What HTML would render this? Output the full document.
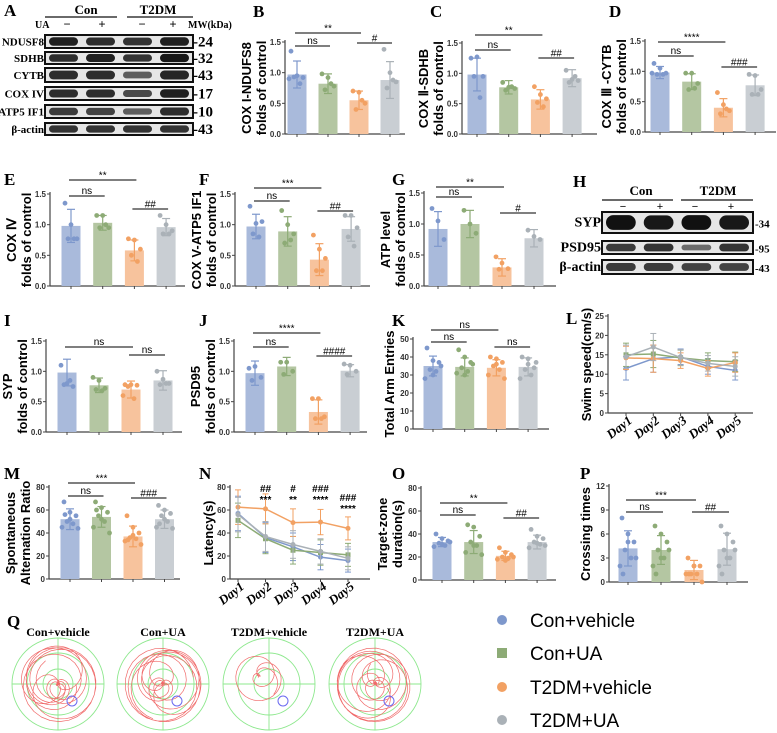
<!DOCTYPE html>
<html><head><meta charset="utf-8"><style>
html,body{margin:0;padding:0;background:#fff;}
svg{display:block;font-family:"Liberation Sans",sans-serif;}
.lt{font-family:"Liberation Serif",serif;font-weight:bold;font-size:17px;}
.tk{font-size:8px;font-weight:bold;fill:#333;}
.yl{font-size:13px;font-weight:bold;}
.sg{font-size:10px;}
.bl{font-family:"Liberation Serif",serif;font-weight:bold;}
</style></head><body>
<svg id="fig" width="777" height="733" viewBox="0 0 777 733" xmlns="http://www.w3.org/2000/svg"></svg>
<script>
// ---------- DATA ----------
const groups = ["Con+vehicle","Con+UA","T2DM+vehicle","T2DM+UA"];
const B_means=[0.97,0.82,0.55,0.88], B_sd=[0.22,0.16,0.15,0.30];
const B_pts=[[1.35,0.95,0.92,0.93,0.82,0.9],[0.98,0.92,0.78,0.72,0.82],[0.7,0.68,0.5,0.4,0.55],[1.38,1.0,0.85,0.75,0.88]];
const C_means=[0.98,0.77,0.57,0.92], C_sd=[0.27,0.11,0.16,0.14];
const C_pts=[[1.25,1.27,0.95,0.95,0.6],[0.85,0.77,0.75,0.72,0.78],[0.78,0.65,0.58,0.52,0.45],[1.05,0.9,0.88,0.85,0.95]];
const D_means=[0.98,0.83,0.40,0.77], D_sd=[0.10,0.13,0.15,0.17];
const D_pts=[[1.13,1.05,0.97,0.95,0.95,0.97],[0.97,0.97,0.8,0.7,0.72],[0.65,0.45,0.35,0.3,0.38],[0.95,0.93,0.7,0.62,0.62]];
const E_means=[0.98,1.03,0.58,0.96], E_sd=[0.27,0.12,0.17,0.14];
const E_pts=[[1.35,1.0,0.77,0.77,0.77],[1.15,1.15,0.95,0.95,1.0],[0.77,0.75,0.6,0.5,0.4],[1.15,1.0,0.9,0.85,0.85]];
const F_means=[0.97,0.89,0.43,0.93], F_sd=[0.20,0.24,0.26,0.20];
const F_pts=[[1.3,1.02,1.05,0.85,0.8],[1.23,1.0,0.85,0.7,0.75],[0.83,0.6,0.45,0.25,0.25],[1.15,1.15,0.95,0.8,0.65]];
const G_means=[0.92,1.0,0.30,0.77], G_sd=[0.28,0.22,0.14,0.14];
const G_pts=[[1.25,1.05,0.75],[1.22,1.0,0.85],[0.47,0.37,0.28,0.27],[0.9,0.8,0.75]];
const I_means=[0.98,0.77,0.70,0.85], I_sd=[0.22,0.12,0.14,0.16];
const I_pts=[[1.1,0.8,0.75,0.78,0.85],[0.9,0.85,0.72,0.7,0.68],[0.78,0.78,0.77,0.75,0.55,0.6],[1.0,0.87,0.8,0.78,0.8]];
const J_means=[0.97,1.08,0.33,1.01], J_sd=[0.20,0.15,0.20,0.10];
const J_pts=[[1.05,1.08,0.9,0.85],[1.15,1.15,1.0,0.95],[0.55,0.55,0.25,0.22,0.22],[1.12,1.1,1.0,0.95]];
const K_means=[35,34.5,34,34.5], K_sd=[5.5,5,4.5,5];
const K_pts=[[45,38,37,33,32,28,35,30],[44,40,37,34,32,31,36,30],[40,39,37,35,33,30,28,36],[40,39,34,33,30,28,37,36]];
const M_means=[52,54,37,52], M_sd=[9,9,9,8];
const M_pts=[[67,58,55,50,48,45,44,52,56],[67,62,58,55,50,45,40,52,60],[55,45,40,36,35,33,30,38,34],[64,60,57,55,50,45,44,52,48]];
const O_means=[33,33,21,33], O_sd=[4,10,4,6];
const O_pts=[[40,36,34,32,30,29,33,31],[48,46,38,33,30,24,22,30],[28,24,22,20,19,18,20,17],[44,38,36,33,31,28,30,32]];
const P_means=[4.2,4.0,1.5,4.1], P_sd=[2.2,1.8,1.2,2.0];
const P_pts=[[8,6,5,4,3,2,3,5,1],[7,6,5,4,3,2,4,3,1],[3,2,2,1,1,1,0,2,1],[7,6,5,4,3,2,4,3,1]];
const days=["Day1","Day2","Day3","Day4","Day5"];
const L_blue=[11.5,14,14.5,12,11], L_green=[15,15.2,14.2,13.5,13.2], L_orange=[14.2,14,13.5,11.5,13], L_gray=[14.5,17,14.3,12.8,12];
const L_err=[3,3.5,2,2,2.5];
const N_blue=[57,36,28,19,16], N_green=[51,35,25,23,21], N_orange=[62.5,61,49,49.5,44], N_gray=[56,37,30,24,18];
const N_err=[15,13,12,11,10];
const N_hash=["","##","#","###","###"], N_star=["","***","**","****","****"];

// ---------- HELPERS ----------
const NS="http://www.w3.org/2000/svg";
const svg=document.getElementById('fig');
function mk(tag,attrs,parent,txt){const e=document.createElementNS(NS,tag);for(const k in attrs)e.setAttribute(k,attrs[k]);if(txt!==undefined)e.textContent=txt;(parent||svg).appendChild(e);return e;}
const FILL=['#a9badb','#b4c6a2','#f7c39d','#c9ced3'], DOT=['#7e98cc','#8dab76','#f2a163','#aab1b7'];
const JIT=[-6,0,6,-3,3,-8,8,0,-5,5];

function drawBars(name,L,means,sds,pts){
  const g=mk('g',{});
  
  
  const y=v=>L.y0-v/L.max*(L.y0-L.y1);
  const x=i=>L.x0+i*L.dx;
  const lt=mk('text',{x:L.lx,y:L.ly,class:'lt'},g,L.letter);
  
  
  mk('line',{x1:L.ax,y1:L.y1-2,x2:L.ax,y2:L.y0,stroke:'#444','stroke-width':1.2},g);
  mk('line',{x1:L.ax,y1:L.y0,x2:L.xEnd,y2:L.y0,stroke:'#444','stroke-width':1.2},g);
  L.ticks.forEach(t=>{
    mk('line',{x1:L.ax-3,y1:y(t),x2:L.ax,y2:y(t),stroke:'#444'},g);
    const tt=mk('text',{x:L.ax-4,y:y(t)+3,'text-anchor':'end',class:'tk'},g,L.fmt(t));
    
    
  });
  const mid=(L.y0+L.y1)/2;
  const yl1=mk('text',{x:0,y:0,class:'yl','text-anchor':'middle',transform:`translate(${L.ax-(L.label2?34:19)},${mid}) rotate(-90)`},g,L.label1);
  
  
  if(L.label2){const yl2=mk('text',{x:0,y:0,class:'yl','text-anchor':'middle',transform:`translate(${L.ax-19},${mid}) rotate(-90)`},g,L.label2);
    
    }
  means.forEach((m,i)=>{
    const b=mk('rect',{x:x(i)-9.5,y:y(m),width:19,height:L.y0-y(m),fill:FILL[i]},g);
    
    
    mk('line',{x1:x(i),y1:L.y0,x2:x(i),y2:L.y0+3,stroke:'#444'},g);
    const top=y(m+sds[i]), bot=y(Math.max(0,m-sds[i]));
    mk('line',{x1:x(i),y1:top,x2:x(i),y2:bot,stroke:DOT[i],'stroke-width':1.2},g);
    mk('line',{x1:x(i)-4,y1:top,x2:x(i)+4,y2:top,stroke:DOT[i],'stroke-width':1.2},g);
    mk('line',{x1:x(i)-4,y1:bot,x2:x(i)+4,y2:bot,stroke:DOT[i],'stroke-width':1.2},g);
    pts[i].forEach((p,k)=>{
      const d=mk('circle',{cx:x(i)+JIT[k%JIT.length],cy:y(p),r:2.4,fill:DOT[i]},g);
      
      
    });
  });
  L.sig.forEach(s=>{
    mk('line',{x1:x(s[0])-2,y1:s[3],x2:x(s[1])+2,y2:s[3],stroke:'#333','stroke-width':1.2},g);
    const st=mk('text',{x:(x(s[0])+x(s[1]))/2,y:s[3]-(s[2]==='ns'?2:1.5),'text-anchor':'middle',class:'sg','font-size':s[2]==='ns'?'12':'10'},g,s[2]);
    
    
  });
}
const f1=t=>t.toFixed(1), f0=t=>String(t);
const T15=[0,0.5,1,1.5];

drawBars('cox1-ndufs8',{letter:'B',lx:253,ly:17,ax:285,x0:297,dx:31,y0:134,y1:42,max:1.5,ticks:T15,fmt:f1,xEnd:405,label1:'COX I-NDUFS8',label2:'folds of control',
  sig:[[0,2,'**',33],[0,1,'ns',46],[2,3,'#',43]]},B_means,B_sd,B_pts);
drawBars('cox2-sdhb',{letter:'C',lx:430,ly:17,ax:462,x0:477,dx:31.7,y0:134,y1:43,max:1.5,ticks:T15,fmt:f1,xEnd:597,label1:'COX Ⅱ-SDHB',label2:'folds of control',
  sig:[[0,2,'**',35],[0,1,'ns',50],[2,3,'##',58]]},C_means,C_sd,C_pts);
drawBars('cox3-cytb',{letter:'D',lx:609,ly:17,ax:645,x0:660,dx:31.7,y0:132,y1:41,max:1.5,ticks:T15,fmt:f1,xEnd:776,label1:'COX Ⅲ -CYTB',label2:'folds of control',
  sig:[[0,2,'****',42],[0,1,'ns',56],[2,3,'###',67]]},D_means,D_sd,D_pts);
drawBars('cox4',{letter:'E',lx:4,ly:185,ax:50,x0:71,dx:31.7,y0:286,y1:194,max:1.5,ticks:T15,fmt:f1,xEnd:185,label1:'COX Ⅳ',label2:'folds of control',
  sig:[[0,2,'**',180],[0,1,'ns',196],[2,3,'##',209]]},E_means,E_sd,E_pts);
drawBars('cox5-atp5if1',{letter:'F',lx:199,ly:185,ax:235,x0:256,dx:31.7,y0:286,y1:194,max:1.5,ticks:T15,fmt:f1,xEnd:370,label1:'COX V-ATP5 IF1',label2:'folds of control',
  sig:[[0,2,'***',188],[0,1,'ns',201],[2,3,'##',211]]},F_means,F_sd,F_pts);
drawBars('atp-level',{letter:'G',lx:392,ly:185,ax:424,x0:438,dx:32,y0:286,y1:193,max:1.5,ticks:T15,fmt:f1,xEnd:556,label1:'ATP level',label2:'folds of control',
  sig:[[0,2,'**',187],[0,1,'ns',197],[2,3,'#',213]]},G_means,G_sd,G_pts);
drawBars('syp',{letter:'I',lx:4,ly:326,ax:46,x0:67,dx:32,y0:432,y1:341,max:1.5,ticks:T15,fmt:f1,xEnd:182,label1:'SYP',label2:'folds of control',
  sig:[[0,2,'ns',347],[2,3,'ns',355]]},I_means,I_sd,I_pts);
drawBars('psd95',{letter:'J',lx:199,ly:326,ax:234,x0:255,dx:31.7,y0:432,y1:341,max:1.5,ticks:T15,fmt:f1,xEnd:367,label1:'PSD95',label2:'folds of control',
  sig:[[0,2,'****',333],[0,1,'ns',347],[2,3,'####',356]]},J_means,J_sd,J_pts);
drawBars('total-arm-entries',{letter:'K',lx:392,ly:326,ax:413,x0:433,dx:31.7,y0:429,y1:339,max:50,ticks:[0,10,20,30,40,50],fmt:f0,xEnd:549,label1:'Total Arm Entries',label2:null,
  sig:[[0,2,'ns',330],[0,1,'ns',342],[2,3,'ns',347]]},K_means,K_sd,K_pts);
drawBars('spontaneous-alternation',{letter:'M',lx:4,ly:479,ax:49,x0:70,dx:31.5,y0:579,y1:487,max:80,ticks:[0,20,40,60,80],fmt:f0,xEnd:180,label1:'Spontaneous',label2:'Alternation Ratio',
  sig:[[0,2,'***',483],[0,1,'ns',496],[2,3,'###',498]]},M_means,M_sd,M_pts);
drawBars('target-zone-duration',{letter:'O',lx:392,ly:479,ax:421,x0:442,dx:31.7,y0:580,y1:488,max:80,ticks:[0,20,40,60,80],fmt:f0,xEnd:556,label1:'Target-zone',label2:'duration(s)',
  sig:[[0,2,'**',503],[0,1,'ns',515],[2,3,'##',518]]},O_means,O_sd,O_pts);
drawBars('crossing-times',{letter:'P',lx:580,ly:479,ax:609,x0:628,dx:33,y0:582,y1:486,max:12,ticks:[0,3,6,9,12],fmt:f0,xEnd:748,label1:'Crossing times',label2:null,
  sig:[[0,2,'***',500],[0,1,'ns',512],[2,3,'##',512]]},P_means,P_sd,P_pts);

// ---------- LINE CHARTS ----------
function drawLines(name,L,series,err,extra){
  const g=mk('g',{});
  
  
  const y=v=>L.y0-v/L.max*(L.y0-L.y1);
  const x=i=>L.x0+i*L.dx;
  const lt=mk('text',{x:L.lx,y:L.ly,class:'lt'},g,L.letter);
  
  
  mk('line',{x1:L.ax,y1:L.y1-2,x2:L.ax,y2:L.y0,stroke:'#444','stroke-width':1.2},g);
  mk('line',{x1:L.ax,y1:L.y0,x2:L.xEnd,y2:L.y0,stroke:'#444','stroke-width':1.2},g);
  L.ticks.forEach(t=>{
    mk('line',{x1:L.ax-3,y1:y(t),x2:L.ax,y2:y(t),stroke:'#444'},g);
    const tt=mk('text',{x:L.ax-4,y:y(t)+3,'text-anchor':'end',class:'tk'},g,String(t));
    
    
  });
  const yl=mk('text',{x:0,y:0,class:'yl','text-anchor':'middle',transform:`translate(${L.ax-17},${(L.y0+L.y1)/2}) rotate(-90)`},g,L.label);
  
  
  days.forEach((d,i)=>{
    mk('line',{x1:x(i),y1:L.y0,x2:x(i),y2:L.y0+3,stroke:'#444'},g);
    const dt=mk('text',{x:0,y:0,class:'bl','font-size':'13','font-style':'italic','text-anchor':'end',transform:`translate(${x(i)+7},${L.y0+9}) rotate(-38)`},g,d);
    
    
  });
  series.forEach((s,si)=>{
    s.forEach((v,i)=>{
      mk('line',{x1:x(i),y1:y(v+err[i]),x2:x(i),y2:y(Math.max(0,v-err[i])),stroke:DOT[si],'stroke-width':1},g);
      mk('line',{x1:x(i)-3,y1:y(v+err[i]),x2:x(i)+3,y2:y(v+err[i]),stroke:DOT[si]},g);
      mk('line',{x1:x(i)-3,y1:y(Math.max(0,v-err[i])),x2:x(i)+3,y2:y(Math.max(0,v-err[i])),stroke:DOT[si]},g);
    });
    const p=mk('polyline',{points:s.map((v,i)=>x(i)+','+y(v)).join(' '),fill:'none',stroke:DOT[si],'stroke-width':1.5},g);
    
    
    s.forEach((v,i)=>{
      const m= si===1? mk('rect',{x:x(i)-2.5,y:y(v)-2.5,width:5,height:5,fill:DOT[si]},g) : mk('circle',{cx:x(i),cy:y(v),r:2.5,fill:DOT[si]},g);
      
      
    });
  });
  if(extra) extra(g,x,y);
}
drawLines('swim-speed',{letter:'L',lx:566,ly:324,ax:608,x0:626,dx:27.3,y0:413,y1:316,max:25,ticks:[0,5,10,15,20,25],xEnd:753,label:'Swim speed(cm/s)'},
  [L_blue,L_green,L_orange,L_gray],L_err);
drawLines('latency',{letter:'N',lx:199,ly:479,ax:230,x0:238,dx:27.5,y0:579,y1:487,max:80,ticks:[0,20,40,60,80],xEnd:370,label:'Latency(s)'},
  [N_blue,N_green,N_orange,N_gray],N_err,(g,x,y)=>{
    N_hash.forEach((h,i)=>{ if(!h)return;
      const o=i===4?9:0;
      const a=mk('text',{x:x(i),y:492+o,'text-anchor':'middle',class:'sg','font-weight':'bold'},g,h);
      
      
      const b=mk('text',{x:x(i),y:503+o,'text-anchor':'middle',class:'sg','font-weight':'bold'},g,N_star[i]);
      
      
    });
  });

// ---------- WESTERN BLOTS ----------
function blot(name,x0,x1,y0,y1,ints,mw,mwx,lab,labx,fs){
  const g=mk('g',{});
  
  
  mk('rect',{x:x0,y:y0,width:x1-x0,height:y1-y0,fill:'#e6e6e6',stroke:'#111','stroke-width':2},g);
  const w=(x1-x0)/4;
  ints.forEach((v,i)=>{
    const h=(y1-y0)*(0.3+0.4*v);
    mk('rect',{x:x0+i*w+4,y:(y0+y1)/2-h/2,width:w-8,height:h,rx:h/2,fill:'#111','fill-opacity':0.35+0.65*v},g);
  });
  const lb=mk('text',{x:labx,y:(y0+y1)/2+4,'text-anchor':'end',class:'bl','font-size':fs},g,lab);
  
  
  const m=mk('text',{x:mwx,y:(y0+y1)/2+5,class:'bl','font-size':fs===11?'15':'11'},g,mw);
  
  
}
const A=mk('text',{x:4,y:16,class:'lt'},svg,'A');
[['Con',86,45,117],['T2DM',158,127,193]].forEach(h=>{
  const t=mk('text',{x:h[1],y:14,'text-anchor':'middle',class:'bl','font-size':'13'},svg,h[0]);
  mk('line',{x1:h[2],y1:17,x2:h[3],y2:17,stroke:'#111','stroke-width':1.3});
});
mk('text',{x:35,y:28,class:'bl','font-size':'10'},svg,'UA');
[['−',67],['+',102],['−',142],['+',173]].forEach(s=>mk('text',{x:s[1],y:28,'text-anchor':'middle','font-size':'12'},svg,s[0]));
mk('text',{x:188,y:28,class:'bl','font-size':'10'},svg,'MW(kDa)');
blot('ndusf8',45,193,35,48,[0.9,0.8,0.75,0.9],'-24',193,'NDUSF8',44,11);
blot('sdhb',45,193,52,64,[0.8,0.9,0.75,0.95],'-32',193,'SDHB',44,11);
blot('cytb',45,193,68,82,[0.8,0.8,0.45,0.85],'-43',193,'CYTB',44,11);
blot('cox4',45,193,87,100,[0.8,0.8,0.6,0.9],'-17',193,'COX IV',44,11);
blot('atp5if1',45,193,105,118,[0.7,0.65,0.45,0.8],'-10',193,'ATP5 IF1',44,11);
blot('beta-actin-a',45,193,123,135,[0.75,0.75,0.75,0.75],'-43',193,'β-actin',44,11);

const H=mk('text',{x:573,y:187,class:'lt'},svg,'H');
[['Con',641,602,673],['T2DM',718,681,753]].forEach(h=>{
  const t=mk('text',{x:h[1],y:195,'text-anchor':'middle',class:'bl','font-size':'13'},svg,h[0]);
  mk('line',{x1:h[2],y1:200,x2:h[3],y2:200,stroke:'#111','stroke-width':1.3});
});
[['−',623],['+',660],['−',695],['+',731]].forEach(s=>mk('text',{x:s[1],y:210,'text-anchor':'middle','font-size':'11'},svg,s[0]));
blot('syp',602,753,212,233,[1,0.95,1,0.95],'-34',755,'SYP',601,14);
blot('psd95',602,753,241,254,[0.7,0.75,0.35,0.75],'-95',755,'PSD95',601,14);
blot('beta-actin-h',602,753,260,274,[0.7,0.7,0.65,0.65],'-43',755,'β-actin',601,14);

// ---------- Q: swim paths ----------
const Q=mk('text',{x:7,y:627,class:'lt'},svg,'Q');
const qc=[[58,'Con+vehicle',1],[163,'Con+UA',1],[269,'T2DM+vehicle',0],[375,'T2DM+UA',1]];
qc.forEach((q,qi)=>{
  const cx=q[0],cy=684,g=mk('g',{});
  
  
  const t=mk('text',{x:cx,y:636,'text-anchor':'middle',class:'bl','font-size':'12'},g,q[1]);
  
  [46,31,15].forEach(r=>mk('circle',{cx,cy,r,fill:'none',stroke:'#8ee88e','stroke-width':0.9},g));
  mk('line',{x1:cx-46,y1:cy,x2:cx+46,y2:cy,stroke:'#8ee88e','stroke-width':0.9},g);
  mk('line',{x1:cx,y1:cy-46,x2:cx,y2:cy+46,stroke:'#8ee88e','stroke-width':0.9},g);
  const pts=[];const n=q[2]?420:160;const R=q[2]?40:26;
  for(let k=0;k<n;k++){const a=k*0.16+2.2*Math.sin(k*0.045+qi);const rr=R*(0.45+0.5*Math.sin(k*0.061+qi*2));
    pts.push((cx+rr*Math.cos(a)+(q[2]?0:-10)).toFixed(1)+','+(cy+rr*Math.sin(a)+(q[2]?0:-8)).toFixed(1));}
  mk('polyline',{points:pts.join(' '),fill:'none',stroke:'#f06a6a','stroke-width':0.7,'stroke-linejoin':'round'},g);
  mk('circle',{cx:cx+14,cy:cy+17,r:5,fill:'none',stroke:'#6a6af0','stroke-width':1},g);
});

// ---------- LEGEND ----------
const leg=[[620,'circle'],[653,'rect'],[687,'circle'],[720,'circle']];
leg.forEach((l,i)=>{
  const g=mk('g',{});
  
  
  if(l[1]==='rect') mk('rect',{x:497,y:l[0]-5,width:10,height:10,fill:DOT[i]},g);
  else mk('circle',{cx:502,cy:l[0],r:5,fill:DOT[i]},g);
  mk('text',{x:530,y:l[0]+7,'font-size':'19'},g,groups[i]);
});
</script>
</body></html>
